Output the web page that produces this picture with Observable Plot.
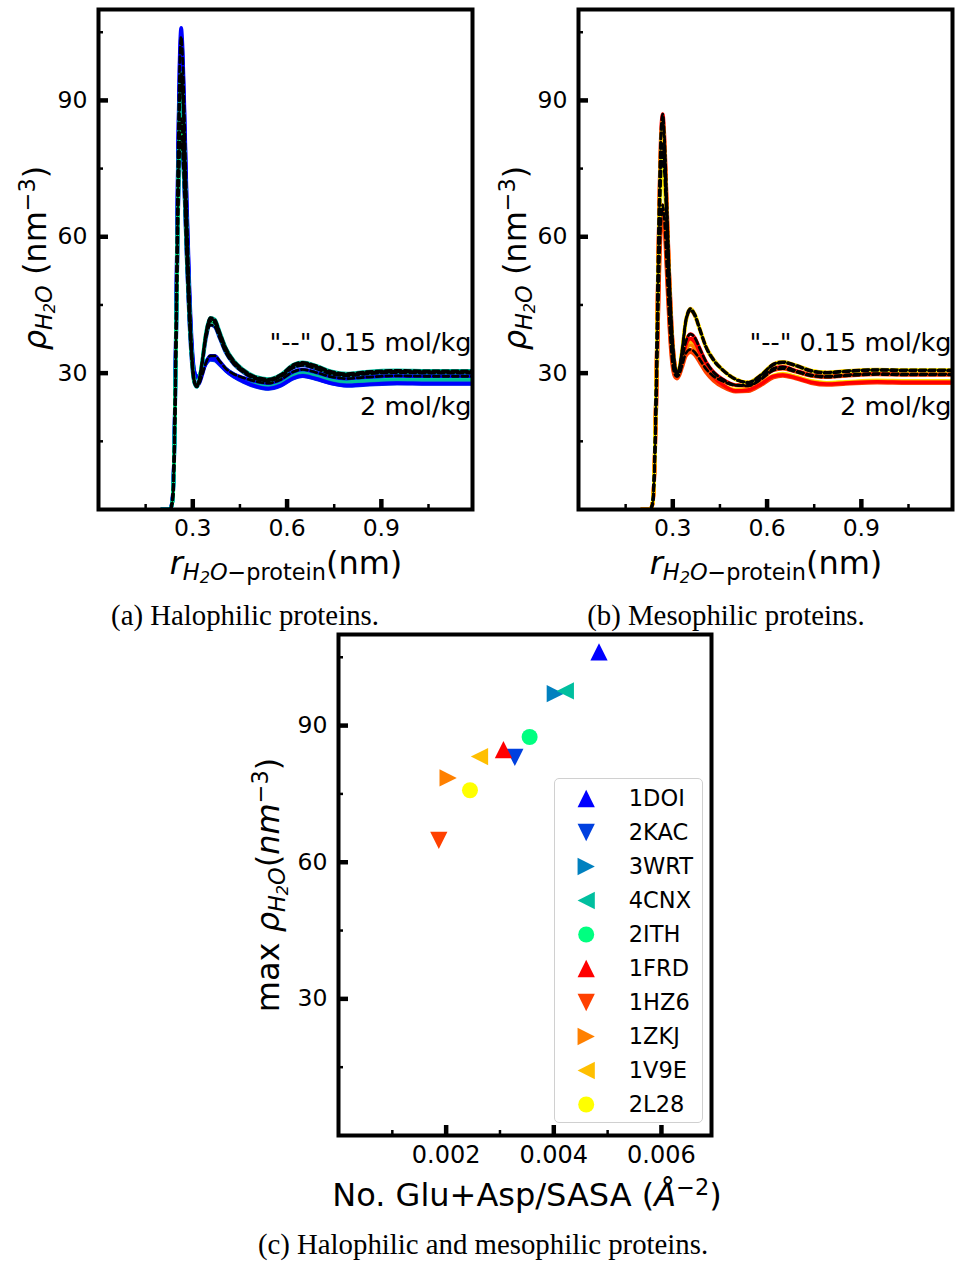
<!DOCTYPE html>
<html><head><meta charset="utf-8">
<script src="https://cdn.jsdelivr.net/npm/d3@7"></script>
<script src="https://cdn.jsdelivr.net/npm/@observablehq/plot@0.6"></script>
<style>
html,body{margin:0;padding:0;background:#fff;}
#page{position:relative;width:956px;height:1261px;overflow:hidden;font-family:"DejaVu Sans",sans-serif;color:#000;}
.lab{position:absolute;white-space:nowrap;font-family:"DejaVu Sans",sans-serif;font-size:32px;line-height:1;color:#000;}
.ylab{transform:translate(-50%,-50%) rotate(-90deg);}
.xlab{transform:translate(-50%,-50%);}
.cap{position:absolute;white-space:nowrap;font-family:"Liberation Serif","Times New Roman",serif;font-size:28.8px;line-height:1;transform:translate(-50%,-50%);}
.lab sub{font-size:0.7em;vertical-align:-0.28em;line-height:0;}
.lab sup{font-size:0.7em;vertical-align:0.5em;line-height:0;}
.lab sub sub{font-size:0.72em;vertical-align:-0.2em;}
#legend{position:absolute;left:554px;top:778px;width:149px;height:345px;box-sizing:border-box;border:1.3px solid #d0d0d0;border-radius:5px;background:rgba(255,255,255,0.85);}
</style></head>
<body>
<div id="page"></div>
<script>
// ---------------- data ----------------
const r = [0.200,0.228,0.236,0.242,0.248,0.253,0.258,0.263,0.268,0.274,0.281,0.289,0.297,0.305,0.313,0.321,0.330,0.342,0.356,0.370,0.386,0.405,0.430,0.460,0.500,0.540,0.580,0.620,0.650,0.690,0.740,0.790,0.850,0.950,1.050,1.200];

// Halophilic, 2 mol/kg
const halo_1DOI_2   = [0,0,3,18,50,80,99,106,101,87,68,50,37,30.5,29.2,29.5,30.6,32.2,33.1,33.0,32.0,30.6,29.3,28.2,27.1,26.6,27.3,28.9,29.4,28.8,27.8,27.3,27.5,27.8,27.7,27.7];
const halo_2KAC_2   = [0,0,2,15,41,64,79,83,79,69,55,42,33.5,29.6,29.0,29.4,30.5,32.0,32.9,32.8,31.8,30.5,29.2,28.1,27.0,26.5,27.2,28.8,29.3,28.7,27.7,27.2,27.4,27.7,27.6,27.6];
const halo_3WRT_2   = [0,0,2.5,17,46,74,91,97,93,80,63,47,35.5,30.2,29.0,29.3,30.4,32.1,33.0,32.9,31.9,30.6,29.3,28.3,27.2,26.7,27.4,29.0,29.5,28.9,27.9,27.4,27.6,27.9,27.8,27.8];
const halo_4CNX_2   = [0,0,2.5,17,46,74,91.5,97.6,93,80,63,47,35.5,30.3,29.2,29.6,30.8,32.6,33.5,33.3,32.3,31.0,29.8,28.8,27.8,27.4,28.1,29.6,30.1,29.5,28.5,28.1,28.3,28.5,28.5,28.5];
const halo_2ITH_2   = [0,0,2,15.5,43,67,82,87.5,83,72,57,44,34,29.8,29.1,29.5,30.7,32.4,33.3,33.2,32.2,30.9,29.7,28.7,27.8,27.5,28.2,29.7,30.2,29.6,28.7,28.3,28.5,28.7,28.6,28.6];
// Halophilic, 0.15 mol/kg
const halo_1DOI_015 = [0,0,3,18,49,78,97,104,99,85,66,48,35,28.5,27.2,27.8,29.6,32.3,33.8,33.8,32.6,31.0,29.8,29.0,28.2,27.8,28.6,30.3,30.8,30.2,29.2,28.8,29.1,29.4,29.3,29.3];
const halo_2KAC_015 = [0,0,2,14,40,63,78,82,78,68,54,41,32,27.8,27.0,28.5,32.0,37.6,40.6,40.2,37.6,34.5,32.0,30.2,28.7,28.3,29.2,31.2,31.7,31.0,29.8,29.4,29.8,30.1,30.0,30.0];
const halo_3WRT_015 = [0,0,2.5,16.5,45,72,89,95.5,91,78,61,46,34,28.2,27.0,28.6,32.5,38.6,41.9,41.5,38.8,35.4,32.6,30.6,29.0,28.5,29.5,31.7,32.2,31.5,30.2,29.7,30.1,30.4,30.3,30.3];
const halo_4CNX_015 = [0,0,2.5,16.5,45,72,89.5,96,91.5,78.5,61.5,46,34,28.2,27.1,28.8,32.8,39.0,42.2,41.8,39.0,35.6,32.8,30.8,29.2,28.7,29.7,31.9,32.4,31.7,30.4,29.9,30.3,30.6,30.5,30.5];
const halo_2ITH_015 = [0,0,2,15,42,66,81,86,82,71,56,43,33,28.0,27.0,28.6,32.4,38.4,41.4,41.0,38.3,35.0,32.3,30.4,28.9,28.4,29.4,31.6,32.1,31.4,30.1,29.6,30.0,30.3,30.2,30.2];

// Mesophilic, 2 mol/kg
const meso_1FRD_2   = [0,0,1.5,10,30,52,70,81,84.3,79,66,51,39,32.5,30.3,30.8,33.0,36.3,37.6,36.8,34.5,31.8,29.2,27.4,26.1,26.3,27.6,29.3,29.6,29.0,28.0,27.6,27.8,28.1,28.0,28.0];
const meso_1HZ6_2   = [0,0,1.2,8,23,40,54,62,64.8,61,51,40,32.5,29.4,28.8,29.5,31.3,33.8,34.6,34.0,32.3,30.2,28.3,26.9,25.9,26.0,27.3,29.0,29.4,28.8,27.8,27.4,27.6,27.9,27.8,27.8];
const meso_1ZKJ_2   = [0,0,1.4,9.5,28,48,65,75,78.5,74,62,48,37,31.5,29.8,30.3,32.3,35.2,36.2,35.5,33.5,31.0,28.8,27.2,26.1,26.2,27.5,29.2,29.6,29.0,28.0,27.6,27.8,28.1,28.0,28.0];
const meso_1V9E_2   = [0,0,1.5,10,30,51,69,80,83.2,78,65,50,38.5,32.2,30.2,30.7,32.8,35.9,37.0,36.3,34.1,31.4,29.0,27.4,26.3,26.4,27.7,29.4,29.8,29.2,28.2,27.8,28.0,28.3,28.2,28.2];
const meso_2L28_2   = [0,0,1.4,9,27,46,62,72,75.8,71.5,60,47,36.5,31.3,29.8,30.4,32.6,35.8,37.0,36.2,34.0,31.3,29.0,27.4,26.4,26.5,27.8,29.5,29.9,29.3,28.3,27.9,28.1,28.4,28.3,28.3];
// Mesophilic, 0.15 mol/kg
const meso_1FRD_015 = [0,0,1.6,10.5,31,54,72,84,87,81.5,68,52,40,32.8,30.2,30.7,33.2,37.0,38.6,37.8,35.4,32.6,30.2,28.6,27.4,27.3,28.9,31.0,31.4,30.6,29.6,29.3,29.6,29.9,29.8,29.8];
const meso_1HZ6_015 = [0,0,1.2,8.3,24,41,56,64,67,63,53,41.5,33.5,30.0,29.2,29.8,31.8,34.4,35.2,34.6,33.0,31.0,29.3,28.2,27.3,27.2,28.6,30.6,31.0,30.3,29.4,29.1,29.4,29.7,29.6,29.6];
const meso_1ZKJ_015 = [0,0,1.5,10,29,49.5,66.5,77,80.5,76,63.5,49,38,32,29.8,31.0,35.0,41.5,43.8,42.6,39.5,35.8,32.8,30.6,28.6,27.9,29.5,31.8,32.3,31.6,30.4,30.0,30.3,30.6,30.5,30.5];
const meso_1V9E_015 = [0,0,1.6,10.5,31,53,71,82.5,85.5,80,67,51.5,39.5,32.5,30.0,31.2,35.3,41.9,44.2,43.0,39.8,36.0,33.0,30.7,28.7,28.0,29.6,32.0,32.5,31.8,30.6,30.2,30.5,30.8,30.7,30.7];
const meso_2L28_015 = [0,0,1.4,9.5,28,48,64.5,74.5,78,73.5,61.5,47.5,37,31.5,29.6,30.9,35.0,41.6,44.0,42.8,39.6,35.8,32.8,30.6,28.6,27.9,29.5,31.9,32.4,31.7,30.5,30.1,30.4,30.7,30.6,30.6];

// Scatter (panel c)
const proteins      = ["1DOI","2KAC","3WRT","4CNX","2ITH","1FRD","1HZ6","1ZKJ","1V9E","2L28"];
const gluAspPerSasa = [0.00484,0.003276,0.004028,0.004214,0.003551,0.003065,0.001864,0.002037,0.002619,0.002443];
const maxRho        = [106.2,83.0,97.0,97.6,87.5,84.7,64.8,78.5,83.2,75.8];

// ticks
const rMajorTicks    = [0.3,0.6,0.9];
const rMinorTicks    = [0.15,0.45,0.75,1.05];
const rhoMajorTicks  = [30,60,90];
const rhoMinorTicks  = [15,45,75,105];
const sasaMajorTicks = [0.002,0.004,0.006];
const sasaMinorTicks = [0.001,0.003,0.005];

// annotations
const annoUpper = "\"--\" 0.15 mol/kg";
const annoLower = "2 mol/kg";

// ---------------- styles ----------------
const colorOf = {
  "1DOI":"#0000ff","2KAC":"#0040df","3WRT":"#0080bf","4CNX":"#00bf9f","2ITH":"#00ff80",
  "1FRD":"#ff0000","1HZ6":"#ff4000","1ZKJ":"#ff8000","1V9E":"#ffbf00","2L28":"#ffff00"
};
const markerOf = {"1DOI":"up","2KAC":"down","3WRT":"right","4CNX":"left","2ITH":"circle",
                  "1FRD":"up","1HZ6":"down","1ZKJ":"right","1V9E":"left","2L28":"circle"};
function tri(pts){
  return {draw(ctx,size){
    const s = Math.sqrt(size/Math.PI)*1.08;
    ctx.moveTo(pts[0][0]*s,pts[0][1]*s);
    ctx.lineTo(pts[1][0]*s,pts[1][1]*s);
    ctx.lineTo(pts[2][0]*s,pts[2][1]*s);
    ctx.closePath();
  }};
}
const symbolOf = {
  up: tri([[0,-1],[-1,1],[1,1]]),
  down: tri([[0,1],[-1,-1],[1,-1]]),
  right: tri([[1,0],[-1,-1],[-1,1]]),
  left: tri([[-1,0],[1,-1],[1,1]]),
  circle: "circle"
};

// ---------------- build tables ----------------
function rows(protein, conc, values){ return values.map((v,i)=>({r:r[i], rho:v, protein, conc, key:protein+"_"+conc})); }
// 2 mol/kg curves first (reverse order), then 0.15 mol/kg curves
const haloRows = [
  ...rows("2ITH","2",halo_2ITH_2), ...rows("4CNX","2",halo_4CNX_2), ...rows("3WRT","2",halo_3WRT_2),
  ...rows("2KAC","2",halo_2KAC_2), ...rows("1DOI","2",halo_1DOI_2),
  ...rows("1DOI","0.15",halo_1DOI_015), ...rows("2KAC","0.15",halo_2KAC_015), ...rows("3WRT","0.15",halo_3WRT_015),
  ...rows("4CNX","0.15",halo_4CNX_015), ...rows("2ITH","0.15",halo_2ITH_015)
];
const mesoRows = [
  ...rows("2L28","2",meso_2L28_2), ...rows("1V9E","2",meso_1V9E_2), ...rows("1ZKJ","2",meso_1ZKJ_2),
  ...rows("1HZ6","2",meso_1HZ6_2), ...rows("1FRD","2",meso_1FRD_2),
  ...rows("1FRD","0.15",meso_1FRD_015), ...rows("1HZ6","0.15",meso_1HZ6_015), ...rows("1ZKJ","0.15",meso_1ZKJ_015),
  ...rows("1V9E","0.15",meso_1V9E_015), ...rows("2L28","0.15",meso_2L28_015)
];
const scatterRows = proteins.map((p,i)=>({protein:p, x:gluAspPerSasa[i], y:maxRho[i]}));

// ---------------- panels ----------------
const page = document.getElementById("page");
function place(node, left, top){ node.style.position="absolute"; node.style.left=left+"px"; node.style.top=top+"px"; page.appendChild(node); return node; }
function html(cls, left, top, inner){ const d=document.createElement("div"); d.className=cls; d.style.left=left+"px"; d.style.top=top+"px"; d.innerHTML=inner; page.appendChild(d); return d; }

function tickMarks(xMaj, xMin, yMaj, yMin, pw, ph){
  return [
    Plot.ruleX(xMaj,{strokeWidth:4.5, insetTop:ph-10}),
    Plot.ruleX(xMin,{strokeWidth:2.5, insetTop:ph-5}),
    Plot.ruleY(yMaj,{strokeWidth:4.5, insetRight:pw-10}),
    Plot.ruleY(yMin,{strokeWidth:2.5, insetRight:pw-5})
  ];
}

function rdfPanel(data){
  const W=480,H=550,mL=98,mR=8,mT=9,mB=41;
  const pw=W-mL-mR, ph=H-mT-mB;
  return Plot.plot({
    width:W,height:H,marginLeft:mL,marginRight:mR,marginTop:mT,marginBottom:mB,
    style:{fontFamily:"DejaVu Sans",fontSize:"23px",color:"#000",background:"transparent",overflow:"visible"},
    x:{domain:[0,1.19],label:null},
    y:{domain:[0,110],label:null},
    marks:[
      Plot.line(data,{x:"r",y:"rho",z:"key",stroke:d=>colorOf[d.protein],strokeWidth:3.6,curve:"monotone-x",clip:true}),
      Plot.line(data.filter(d=>d.conc==="0.15"),{x:"r",y:"rho",z:"key",stroke:"black",strokeWidth:2.7,strokeDasharray:"6,3.5",curve:"monotone-x",clip:true}),
      ...tickMarks(rMajorTicks,rMinorTicks,rhoMajorTicks,rhoMinorTicks,pw,ph),
      Plot.axisX(rMajorTicks,{tickSize:0,tickPadding:10,fontSize:23.5,label:null}),
      Plot.axisY(rhoMajorTicks,{tickSize:0,tickPadding:11,fontSize:23.5,label:null}),
      Plot.text([annoUpper],{x:()=>1.19,y:()=>36.6,text:d=>d,textAnchor:"end",fontSize:25.5,dx:-1}),
      Plot.text([annoLower],{x:()=>1.19,y:()=>22.5,text:d=>d,textAnchor:"end",fontSize:25.5,dx:-1}),
      Plot.frame({strokeWidth:4})
    ]
  });
}

place(rdfPanel(haloRows),0,0);
place(rdfPanel(mesoRows),480,0);

// scatter panel
(function(){
  const W=480,H=565,mL=98,mR=9,mT=14,mB=50;
  const pw=W-mL-mR, ph=H-mT-mB;
  const dots = scatterRows.map(d=>Plot.dot([d],{x:"x",y:"y",symbol:symbolOf[markerOf[d.protein]],r:8,fill:colorOf[d.protein],stroke:"none"}));
  const svg = Plot.plot({
    width:W,height:H,marginLeft:mL,marginRight:mR,marginTop:mT,marginBottom:mB,
    style:{fontFamily:"DejaVu Sans",fontSize:"23px",color:"#000",background:"transparent",overflow:"visible"},
    x:{domain:[0,0.00693],label:null},
    y:{domain:[0,110],label:null},
    marks:[
      ...dots,
      ...tickMarks(sasaMajorTicks,sasaMinorTicks,rhoMajorTicks,rhoMinorTicks,pw,ph),
      Plot.axisX(sasaMajorTicks,{tickSize:0,tickPadding:10,fontSize:24,label:null,tickFormat:d3.format(".3f")}),
      Plot.axisY(rhoMajorTicks,{tickSize:0,tickPadding:11,fontSize:23.5,label:null}),
      Plot.frame({strokeWidth:4})
    ]
  });
  place(svg,240,620);
  // legend
  const leg=document.createElement("div"); leg.id="legend"; page.appendChild(leg);
  const legSvg = Plot.plot({
    width:147,height:343,margin:0,
    style:{fontFamily:"DejaVu Sans",fontSize:"22px",color:"#000",background:"transparent",overflow:"visible"},
    x:{domain:[0,1],range:[30.7,73.3],axis:null},
    y:{type:"point",domain:proteins,range:[18,18+9*34.2],padding:0,axis:null},
    marks:[
      ...scatterRows.map(d=>Plot.dot([d],{x:()=>0,y:"protein",symbol:symbolOf[markerOf[d.protein]],r:8,fill:colorOf[d.protein],stroke:"none"})),
      Plot.text(scatterRows,{x:()=>1,y:"protein",text:"protein",textAnchor:"start",fontSize:22.5})
    ]
  });
  legSvg.style.display="block";
  leg.appendChild(legSvg);
})();

// axis titles
const rhoLab = '<i>ρ</i><sub><i>H<sub>2</sub>O</i></sub> (nm<sup>−3</sup>)';
const rLab = '<i>r</i><sub><i>H<sub>2</sub>O</i>−protein</sub>(nm)';
html("lab ylab",35,258,rhoLab);
html("lab xlab",286,563,rLab);
html("lab ylab",515,258,rhoLab);
html("lab xlab",766,563,rLab);
html("lab ylab",268,885,'max <i>ρ</i><sub><i>H<sub>2</sub>O</i></sub>(<i>nm</i><sup>−3</sup>)');
html("lab xlab",527,1195,'No. Glu+Asp/SASA (<i>Å</i><sup>−2</sup>)');
// captions
html("cap",245,615,"(a) Halophilic proteins.");
html("cap",726,615,"(b) Mesophilic proteins.");
html("cap",483,1244,"(c) Halophilic and mesophilic proteins.");
</script>
</body></html>
